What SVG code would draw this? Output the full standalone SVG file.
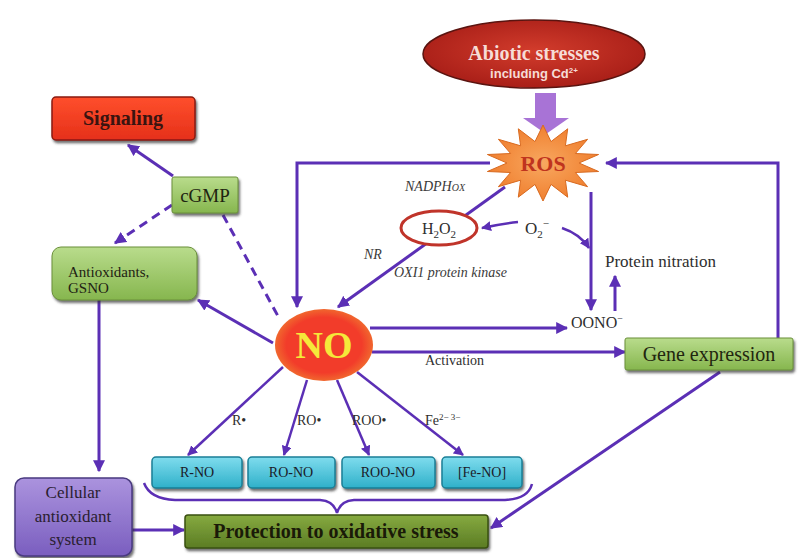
<svg xmlns="http://www.w3.org/2000/svg" width="802" height="558" viewBox="0 0 802 558">
<defs>
<style>
.c{fill:none;stroke:#5b2fb5;stroke-width:3}
.a{marker-end:url(#ah)}
.d{stroke-dasharray:9 6}
.s{font-family:"Liberation Serif",serif}
.ss{font-family:"Liberation Sans",sans-serif}
.i{font-style:italic;fill:#3a3a3a;font-size:14px}
.lab{fill:#2e2e2e;font-size:14px}
.cy{fill:url(#gc);stroke:#1a7f96;stroke-width:1.5}
.cyt{font-size:14px;fill:#1a1a28;text-anchor:middle}
</style>
<marker id="ah" viewBox="0 0 10 10" refX="9" refY="5" markerWidth="4" markerHeight="4" orient="auto" markerUnits="strokeWidth"><path d="M0,0 L10,5 L0,10 z" fill="#5b2fb5"/></marker>
<linearGradient id="gg" x1="0" y1="0" x2="0" y2="1"><stop offset="0" stop-color="#b9dc8c"/><stop offset="1" stop-color="#86b64e"/></linearGradient>
<linearGradient id="gc" x1="0" y1="0" x2="0" y2="1"><stop offset="0" stop-color="#7fdcee"/><stop offset="1" stop-color="#2fb0c9"/></linearGradient>
<linearGradient id="gp" x1="0" y1="0" x2="0" y2="1"><stop offset="0" stop-color="#ab93de"/><stop offset="1" stop-color="#7a5ebf"/></linearGradient>
<linearGradient id="go" x1="0" y1="0" x2="0" y2="1"><stop offset="0" stop-color="#86aa40"/><stop offset="1" stop-color="#5b7c24"/></linearGradient>
<linearGradient id="gr" x1="0" y1="0" x2="0" y2="1"><stop offset="0" stop-color="#ff4f2c"/><stop offset="1" stop-color="#e5301a"/></linearGradient>
<radialGradient id="gab" cx="0.5" cy="0.45" r="0.6"><stop offset="0" stop-color="#d23c2c"/><stop offset="1" stop-color="#a51c16"/></radialGradient>
<radialGradient id="gno" cx="0.5" cy="0.5" r="0.55"><stop offset="0.7" stop-color="#f23c2a"/><stop offset="1" stop-color="#f07a30"/></radialGradient>
<radialGradient id="gros" cx="0.5" cy="0.5" r="0.5"><stop offset="0" stop-color="#f8a860"/><stop offset="1" stop-color="#f08030"/></radialGradient>
<filter id="sh" x="-10%" y="-10%" width="130%" height="140%"><feDropShadow dx="1.5" dy="2.5" stdDeviation="1" flood-color="#333" flood-opacity="0.7"/></filter>
</defs>
<rect width="802" height="558" fill="#fff"/>

<g id="connectors">
<path d="M535,93 H556 V118 H569 L546,134 L523,118 H535 Z" fill="#a873d6"/>
<path class="c a" d="M490,163 H297 V307"/>
<path class="c a" d="M778,338 V163 H606"/>
<path class="c a" d="M505,187 L338,307"/>
<path class="c a" d="M518,222 Q500,224 482,228" style="stroke-width:2.5"/>
<path class="c a" d="M562,228 Q580,234 589,248" style="stroke-width:2.5"/>
<path class="c a" d="M591,192 V310"/>
<path class="c a" d="M615,311 V276"/>
<path class="c a" d="M370,328 H567"/>
<path class="c a" d="M372,352 H625"/>
<path class="c a" d="M720,372 L491,528"/>
<path class="c a" d="M173,176 L128,145"/>
<path class="c a d" d="M172,205 L115,243"/>
<path class="c d" d="M223,215 L279,318"/>
<path class="c a" d="M273,343 L198,300"/>
<path class="c a" d="M99,300 V471"/>
<path class="c a" d="M132,530 H184"/>
<path class="c a" d="M283,367 L188,455" style="stroke-width:2.5"/>
<path class="c a" d="M307,380 L284,455" style="stroke-width:2.5"/>
<path class="c a" d="M337,380 L369,455" style="stroke-width:2.5"/>
<path class="c a" d="M357,372 L463,455" style="stroke-width:2.5"/>
<path class="c" d="M144,483 Q150,499 175,500 H320 Q334,501 337,513 Q340,501 354,500 H505 Q528,499 532,484" style="stroke-width:2.5"/>
</g>

<g id="abiotic">
<ellipse cx="534" cy="54" rx="111" ry="34" fill="url(#gab)" stroke="#5a1410" stroke-width="1.5"/>
<text class="s" x="534" y="60" text-anchor="middle" font-size="20" font-weight="bold" fill="#f6dcd6">Abiotic stresses</text>
<text class="ss" x="534" y="78" text-anchor="middle" font-size="13" font-weight="bold" fill="#f6dcd6">including Cd<tspan font-size="8" dy="-5">2+</tspan></text>
</g>

<g id="ros">
<polygon points="543,125 551,141.6 567.7,128.8 565.4,145.8 587.6,139.3 575.4,153.5 598.6,154.5 579,163 598.6,171.5 575.4,172.5 587.6,186.7 565.4,180.2 567.7,197.2 551,184.4 543,201 535,184.4 518.3,197.2 520.6,180.2 498.4,186.7 510.6,172.5 487.4,171.5 507,163 487.4,154.5 510.6,153.5 498.4,139.3 520.6,145.8 518.3,128.8 535,141.6" fill="url(#gros)" stroke="#d86a20" stroke-width="1"/>
<text class="s" x="543" y="171" text-anchor="middle" font-size="22" font-weight="bold" fill="#c0341e">ROS</text>
</g>

<g id="signaling">
<rect x="52" y="97" width="143" height="43" rx="4" fill="url(#gr)" stroke="#8a1a10" stroke-width="1.5" filter="url(#sh)"/>
<text class="s" x="123" y="125" text-anchor="middle" font-size="20" font-weight="bold" fill="#3a1410">Signaling</text>
</g>

<g id="cgmp">
<rect x="172" y="177" width="66" height="36" rx="2" fill="url(#gg)" stroke="#6a8f3a" stroke-width="1" filter="url(#sh)"/>
<text class="s" x="205" y="202" text-anchor="middle" font-size="19" fill="#1e2410">cGMP</text>
</g>

<g id="antioxidants">
<rect x="52" y="247" width="145" height="53" rx="9" fill="url(#gg)" stroke="#6a8f3a" stroke-width="1" filter="url(#sh)"/>
<text class="s" x="68" y="277" font-size="15" fill="#222214">Antioxidants,</text>
<text class="s" x="68" y="293" font-size="15" fill="#222214">GSNO</text>
</g>

<g id="h2o2">
<ellipse cx="439" cy="228" rx="38" ry="17" fill="#fff" stroke="#c0342a" stroke-width="3"/>
<text class="s" x="439" y="234" text-anchor="middle" font-size="16" fill="#2e2e2e">H<tspan font-size="11" dy="4">2</tspan><tspan dy="-4">O</tspan><tspan font-size="11" dy="4">2</tspan></text>
</g>

<g id="labels">
<text class="s i" x="405" y="191">NADPH<tspan font-size="10">OX</tspan></text>
<text class="s i" x="364" y="259">NR</text>
<text class="s i" x="394" y="277">OXI1 protein kinase</text>
<text class="s" x="525" y="234" font-size="17" fill="#2e2e2e">O<tspan font-size="11" dy="4">2</tspan><tspan font-size="11" dy="-11">−</tspan></text>
<text class="s lab" x="425" y="365">Activation</text>
<text class="s lab" x="232" y="425">R•</text>
<text class="s lab" x="297" y="425">RO•</text>
<text class="s lab" x="352" y="425">ROO•</text>
<text class="s lab" x="425" y="425">Fe<tspan font-size="9" dy="-5">2− 3−</tspan></text>
</g>

<g id="oono">
<text class="s" x="571" y="328" font-size="16" fill="#2e2e2e">OONO<tspan font-size="10" dy="-6">−</tspan></text>
</g>

<g id="protein-nitration">
<text class="s" x="605" y="267" font-size="17" fill="#2e2e2e">Protein nitration</text>
</g>

<g id="no">
<ellipse cx="324" cy="345" rx="49" ry="36" fill="url(#gno)"/>
<text class="s" x="324" y="358" text-anchor="middle" font-size="38" font-weight="bold" fill="#f5e83a">NO</text>
</g>

<g id="gene-expression">
<rect x="625" y="338" width="168" height="32" rx="2" fill="url(#gg)" stroke="#6a8f3a" stroke-width="1" filter="url(#sh)"/>
<text class="s" x="709" y="361" text-anchor="middle" font-size="20" fill="#22260f">Gene expression</text>
</g>

<g id="r-no">
<rect class="cy" x="152" y="457" width="90" height="31" rx="4" filter="url(#sh)"/>
<text class="s cyt" x="197" y="477">R-NO</text>
</g>
<g id="ro-no">
<rect class="cy" x="248" y="457" width="87" height="31" rx="4" filter="url(#sh)"/>
<text class="s cyt" x="291" y="477">RO-NO</text>
</g>
<g id="roo-no">
<rect class="cy" x="342" y="457" width="93" height="31" rx="4" filter="url(#sh)"/>
<text class="s cyt" x="388" y="477">ROO-NO</text>
</g>
<g id="fe-no">
<rect class="cy" x="442" y="457" width="80" height="31" rx="4" filter="url(#sh)"/>
<text class="s cyt" x="482" y="477">[Fe-NO]</text>
</g>

<g id="cellular">
<rect x="15" y="478" width="117" height="78" rx="9" fill="url(#gp)" stroke="#4a3a80" stroke-width="1.5" filter="url(#sh)"/>
<text class="s" x="73" y="498" text-anchor="middle" font-size="17" fill="#2a2030">Cellular</text>
<text class="s" x="73" y="522" text-anchor="middle" font-size="17" fill="#2a2030">antioxidant</text>
<text class="s" x="73" y="545" text-anchor="middle" font-size="17" fill="#2a2030">system</text>
</g>

<g id="protection">
<rect x="185" y="515" width="303" height="33" rx="3" fill="url(#go)" stroke="#3a5010" stroke-width="1.5" filter="url(#sh)"/>
<text class="s" x="336" y="538" text-anchor="middle" font-size="20" font-weight="bold" fill="#1a1a08">Protection to oxidative stress</text>
</g>
</svg>
